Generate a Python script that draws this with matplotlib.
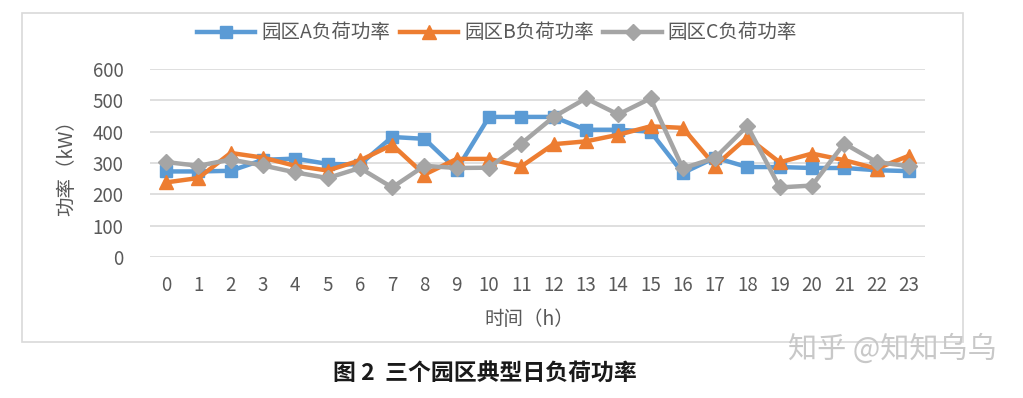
import matplotlib.pyplot as plt
from matplotlib.patches import Rectangle

plt.rcParams['font.family'] = ['Noto Sans CJK SC', 'DejaVu Sans']

# 数据
hours = list(range(24))
load_a = [273, 273, 275, 310, 314, 297, 295, 383, 377, 279, 447, 447,
          447, 406, 406, 400, 268, 317, 287, 287, 284, 284, 277, 274]
load_b = [238, 252, 332, 317, 291, 276, 308, 358, 263, 313, 313, 289,
          360, 369, 390, 417, 412, 291, 382, 302, 330, 309, 282, 323]
load_c = [303, 291, 311, 292, 270, 252, 284, 222, 291, 284, 285, 362,
          447, 506, 455, 506, 283, 316, 418, 222, 228, 362, 303, 290]
series_names = ["园区A负荷功率", "园区B负荷功率", "园区C负荷功率"]
y_ticks = [0, 100, 200, 300, 400, 500, 600]

colors = ["#5B9BD5", "#ED7D31", "#A5A5A5"]
markers = ["s", "^", "D"]
text_color = "#595959"

fig = plt.figure(figsize=(10.23, 3.98), dpi=100)
ax = fig.add_axes([0.1466, 0.3543, 0.7576, 0.4724])

# 外框
fig.patches.append(Rectangle((22 / 1023, 1 - 342 / 398), 941 / 1023, 329 / 398,
                             transform=fig.transFigure, fill=False,
                             edgecolor="#D9D9D9", linewidth=1.2))

for vals, name, c, m, ms in zip([load_a, load_b, load_c], series_names,
                                 colors, markers, [9, 10, 8]):
    ax.plot(hours, vals, color=c, marker=m, markersize=ms, linewidth=3.2,
            label=name)

ax.set_xlim(-0.5, 23.5)
ax.set_ylim(0, 600)
ax.set_xticks(hours)
ax.set_yticks(y_ticks)
ax.grid(axis="y", color="#D9D9D9", linewidth=1.2)
ax.set_axisbelow(True)
for s in ax.spines.values():
    s.set_visible(False)
ax.tick_params(length=0, labelsize=13.5, colors=text_color, pad=13)
ax.tick_params(axis="y", pad=19)

ax.set_xlabel("时间（h）", fontsize=14, color=text_color, va="center")
ax.set_ylabel("功率（kW）", fontsize=14, color=text_color, va="center")
ax.xaxis.set_label_coords(0.49, -0.335)
ax.yaxis.set_label_coords(-0.107, 0.5)

fig.legend(loc="center", bbox_to_anchor=(497 / 1023, 1 - 33 / 398), ncol=3,
           frameon=False, fontsize=14, labelcolor=text_color,
           handlelength=3.0, columnspacing=0.5, handletextpad=0.3)

fig.text(485 / 1023, 1 - 374 / 398, "图 2  三个园区典型日负荷功率", ha="center",
         va="center", fontsize=16.5, fontweight="bold", color="#1a1a1a")
fig.text(892 / 1023, 1 - 350 / 398, "知乎 @知知乌乌", ha="center", va="center",
         fontsize=21, color="#C8C8C8")

plt.savefig("out.png", dpi=100)
